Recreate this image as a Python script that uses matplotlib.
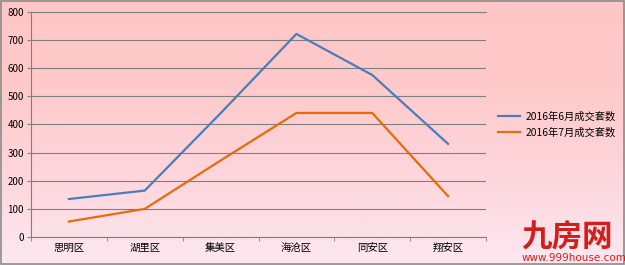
import numpy as np
import matplotlib.pyplot as plt
from matplotlib.colors import LinearSegmentedColormap
from matplotlib.patches import Rectangle

plt.rcParams['font.family'] = ['Noto Sans CJK SC', 'DejaVu Sans']

districts = ['思明区', '湖里区', '集美区', '海沧区', '同安区', '翔安区']
june = [135, 165, 440, 722, 576, 331]
july = [55, 100, 272, 441, 441, 145]
labels = ['2016年6月成交套数', '2016年7月成交套数']

fig = plt.figure(figsize=(6.25, 2.65), dpi=100)

# 渐变背景
bg = fig.add_axes([0, 0, 1, 1], zorder=-10)
cmap = LinearSegmentedColormap.from_list('bg', ['#fde8f0', '#fdd6dc', '#ffcaca', '#ffc6c6'])
grad = np.linspace(0, 1, 256).reshape(-1, 1)
bg.imshow(grad, aspect='auto', cmap=cmap, origin='lower', extent=[0, 1, 0, 1])
bg.add_patch(Rectangle((0.001, 0.002), 0.997, 0.994, fill=False, edgecolor='#8c8c8c', lw=1.2))
bg.set_xlim(0, 1)
bg.set_ylim(0, 1)
bg.axis('off')

ax = fig.add_axes([0.0496, 0.1057, 0.728, 0.849])
ax.patch.set_alpha(0)
x = np.arange(len(districts))
ax.plot(x, june, color='#4a7ebb', lw=1.6, label=labels[0])
ax.plot(x, july, color='#e46c0a', lw=1.6, label=labels[1])

ax.set_xlim(-0.5, len(districts) - 0.5)
ax.set_ylim(0, 800)
ax.set_yticks(range(0, 801, 100))
ax.yaxis.grid(True, color='#7f7f7f', lw=0.8)
ax.axhline(800, color='#7f7f7f', lw=0.8, clip_on=False, zorder=0.5)
ax.set_axisbelow(True)
ax.set_xticks(x)
ax.set_xticklabels(districts, fontsize=7.5)
ax.set_xticks(np.arange(-0.5, len(districts), 1), minor=True)
ax.tick_params(axis='x', which='major', length=0, pad=4)
ax.tick_params(axis='x', which='minor', length=3, color='#7f7f7f')
ax.tick_params(axis='y', length=3, color='#7f7f7f', labelsize=7, pad=2)
for s in ['top', 'right']:
    ax.spines[s].set_visible(False)
for s in ['left', 'bottom']:
    ax.spines[s].set_color('#7f7f7f')
    ax.spines[s].set_linewidth(0.8)

ax.legend(loc='center left', bbox_to_anchor=(1.005, 0.5), frameon=False,
          fontsize=7.4, handlelength=2.2, handletextpad=0.5, labelspacing=0.5)

fig.text(0.834, 0.068, '九房网', color='#d0201e', fontsize=22, fontweight='bold')
fig.text(0.834, 0.015, 'www.999house.com', color='#d0201e', fontsize=7.5, family='DejaVu Sans')

fig.savefig('out.png', dpi=100)
